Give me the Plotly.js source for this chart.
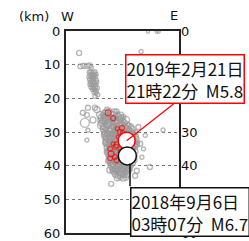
<!DOCTYPE html>
<html><head><meta charset="utf-8">
<script src="https://cdn.plot.ly/plotly-3.0.1.min.js"></script>
<style>html,body{margin:0;padding:0;background:#fff;}#chart{width:249px;height:241px;}</style>
</head><body><div id="chart"></div>
<script>
// depth axis ticks
const depthTicks = [0, 10, 20, 30, 40, 50, 60];
const rightTickVals = [0, 10, 20, 30, 40, 50, 60];

// gray hypocenters (x: W->E distance km, depth km, marker size px)
const grayX = [
 3.9, 4.3, 5.2, 6.2, 7.0, 7.5, 22.3, 24.3, 26.9, 27.5,
 6.9, 7.4, 8.0, 8.6, 7.1, 7.8, 8.4, 8.9, 6.8, 7.5, 8.2, 8.8, 7.0, 7.7, 8.3, 9.0,
 7.2, 7.9, 8.5, 9.1, 7.1, 7.6, 8.3, 8.9, 7.4, 8.0, 8.7, 9.3, 7.8, 8.5, 9.0, 8.3, 8.9, 9.4, 8.6,
 5.0, 6.5, 9.2, 8.0, 5.6, 10.7, 11.6, 6.2, 6.2, 12.2, 8.6, 10.1, 12.2, 6.5,
 11.8, 12.9, 14.2, 15.0,
 10.9, 11.6, 12.4, 13.3, 14.0, 15.3, 16.2,
 10.4, 11.2, 12.0, 12.8, 13.6, 14.5, 15.4, 16.3, 17.0,
 10.2, 11.0, 11.9, 12.7, 13.5, 14.3, 15.2, 16.0, 16.9, 17.8,
 10.6, 11.5, 12.3, 13.1, 13.9, 14.8, 15.6, 16.5, 17.3, 18.2,
 10.9, 11.7, 12.6, 13.4, 14.2, 15.0, 15.9, 16.7, 17.6, 18.5, 19.3,
 11.1, 11.9, 12.8, 13.6, 14.4, 15.3, 16.1, 17.0, 17.8, 18.7, 19.6,
 11.3, 12.2, 13.0, 13.8, 14.7, 15.5, 16.3, 17.2, 18.0, 18.9, 19.8, 20.5,
 11.4, 12.3, 13.1, 13.9, 14.8, 15.6, 16.5, 17.3, 18.2, 19.0, 19.9, 20.7,
 11.7, 12.5, 13.3, 14.1, 15.0, 15.8, 16.6, 17.5, 18.3, 19.2, 20.0, 20.8,
 11.9, 12.7, 13.5, 14.4, 15.2, 16.0, 16.9, 17.7, 18.6, 19.4, 20.3, 21.0,
 12.0, 12.9, 13.7, 14.5, 15.4, 16.2, 17.0, 17.9, 18.7, 19.6, 20.4, 21.1,
 12.2, 13.0, 13.8, 14.7, 15.5, 16.3, 17.2, 18.0, 18.9, 19.7, 20.5,
 12.4, 13.2, 14.0, 14.9, 15.7, 16.5, 17.4, 18.2, 19.1, 19.9, 20.6,
 12.5, 13.3, 14.2, 15.0, 15.8, 16.7, 17.5, 18.4, 19.2, 20.0,
 12.7, 13.5, 14.3, 15.2, 16.0, 16.9, 17.7, 18.6, 19.4, 20.2,
 12.9, 13.7, 14.5, 15.4, 16.2, 17.0, 17.9, 18.7, 19.5, 20.3,
 13.1, 13.9, 14.8, 15.6, 16.4, 17.3, 18.1, 18.9, 19.7,
 13.4, 14.2, 15.0, 15.9, 16.7, 17.5, 18.4, 19.2,
 13.8, 14.6, 15.4, 16.2, 17.1, 17.9, 18.7,
 14.2, 15.0, 15.8, 16.7, 17.5, 18.3,
 14.6, 15.5, 16.3, 17.2, 18.0,
 15.2, 16.1, 17.0, 17.8, 13.4,
 22.0, 24.9, 28.8, 21.5, 23.5, 21.0, 20.5, 22.5, 23.0,
 11.5, 12.4, 13.2, 14.1, 14.9, 15.8, 16.6, 17.4, 18.3, 19.1,
 11.8, 12.6, 13.5, 14.3, 15.1, 16.0, 16.8, 17.7, 18.5, 19.4, 20.2,
 12.1, 12.9, 13.8, 14.6, 15.4, 16.3, 17.1, 17.9, 18.8, 19.6,
 12.5, 13.4, 14.2, 15.1, 15.9, 16.7, 17.6, 18.4, 19.3,
 13.0, 13.8, 14.6, 15.5, 16.3, 17.2, 18.0, 18.8
];
const grayDepth = [
 6.5, 10.5, 10.3, 10.4, 10.2, 10.8, 6.1, 0.2, 0.2, 0.2,
 12.2, 12.0, 12.3, 12.1, 12.9, 13.0, 13.1, 12.8, 13.6, 13.7, 13.8, 13.5, 14.4, 14.5, 14.3, 14.6,
 15.2, 15.1, 15.4, 15.2, 15.9, 16.0, 16.1, 16.0, 16.7, 16.8, 16.6, 16.9, 17.4, 17.5, 17.7, 18.2, 18.4, 18.9, 19.4,
 24.3, 22.8, 23.4, 26.4, 27.3, 27.9, 25.5, 32.4, 24.9, 31.5, 22.8, 24.9, 23.4, 29.5,
 24.1, 23.8, 24.2, 23.9,
 24.9, 24.6, 25.0, 24.7, 25.1, 24.8, 25.0,
 25.7, 25.4, 25.8, 25.5, 25.7, 25.9, 25.5, 25.8, 25.6,
 26.5, 26.7, 26.3, 26.6, 26.4, 26.8, 26.5, 26.3, 26.6, 26.4,
 27.4, 27.2, 27.6, 27.3, 27.5, 27.2, 27.6, 27.4, 27.3, 27.7,
 28.3, 28.5, 28.1, 28.4, 28.2, 28.6, 28.3, 28.1, 28.5, 28.2, 28.4,
 29.2, 29.0, 29.4, 29.1, 29.3, 29.0, 29.4, 29.2, 29.0, 29.3, 29.1,
 30.1, 30.3, 29.9, 30.2, 30.0, 30.3, 30.1, 29.9, 30.2, 30.0, 30.3, 30.1,
 31.0, 30.8, 31.2, 30.9, 31.1, 30.8, 31.2, 31.0, 30.9, 31.1, 30.8, 31.2,
 31.9, 32.1, 31.8, 32.0, 31.7, 32.1, 31.9, 32.2, 31.8, 32.0, 31.9, 32.1,
 32.8, 32.6, 33.0, 32.7, 32.9, 32.6, 33.0, 32.8, 32.7, 32.9, 32.6, 33.0,
 33.7, 33.9, 33.5, 33.8, 33.6, 33.9, 33.7, 33.5, 33.8, 33.6, 33.9, 33.7,
 34.6, 34.4, 34.8, 34.5, 34.7, 34.4, 34.8, 34.6, 34.5, 34.7, 34.4,
 35.5, 35.7, 35.3, 35.6, 35.4, 35.7, 35.5, 35.3, 35.6, 35.4, 35.7,
 36.4, 36.2, 36.6, 36.3, 36.5, 36.2, 36.6, 36.4, 36.3, 36.5,
 37.3, 37.5, 37.1, 37.4, 37.2, 37.5, 37.3, 37.1, 37.4, 37.2,
 38.2, 38.0, 38.4, 38.1, 38.3, 38.0, 38.4, 38.2, 38.1, 38.3,
 39.1, 39.3, 38.9, 39.2, 39.0, 39.3, 39.1, 38.9, 39.2,
 40.0, 39.8, 40.2, 39.9, 40.1, 39.8, 40.2, 40.0,
 40.9, 41.1, 40.7, 41.0, 40.8, 41.1, 40.9,
 41.8, 41.6, 42.0, 41.7, 41.9, 41.6,
 42.7, 42.9, 42.5, 42.8, 42.6,
 43.6, 43.4, 43.7, 43.5, 45.4,
 33.5, 40.4, 29.4, 28.5, 31.0, 41.5, 43.0, 37.5, 35.0,
 30.6, 30.5, 30.8, 30.4, 30.7, 30.5, 30.6, 30.8, 30.4, 30.6,
 33.2, 33.3, 33.1, 33.4, 33.2, 33.0, 33.3, 33.2, 33.4, 33.1, 33.3,
 35.9, 36.0, 35.8, 36.1, 35.9, 36.0, 35.8, 36.1, 35.9, 36.0,
 38.6, 38.7, 38.5, 38.8, 38.6, 38.7, 38.5, 38.8, 38.6,
 41.3, 41.4, 41.2, 41.5, 41.3, 41.2, 41.4, 41.3
];
const graySize = [
 5, 5, 5, 5, 5, 4, 4, 3, 3, 3,
 4, 4, 4, 4, 4, 4, 4, 4, 4, 4, 4, 4, 4, 4, 4, 4,
 4, 4, 4, 4, 4, 4, 4, 4, 4, 4, 4, 4, 4, 4, 4, 4, 4, 4, 4,
 5, 5, 6, 6, 9, 9, 6, 4, 5, 8, 5, 7, 5, 4,
 6, 5, 7, 5,
 5, 7, 5, 6, 8, 5, 6,
 6, 5, 7, 5, 6, 5, 7, 6, 5,
 5, 6, 8, 5, 6, 7, 5, 6, 5, 7,
 6, 5, 7, 6, 5, 6, 8, 5, 6, 5,
 5, 7, 6, 5, 6, 5, 7, 6, 5, 6, 5,
 6, 5, 6, 7, 5, 6, 5, 6, 7, 5, 6,
 5, 6, 7, 5, 6, 8, 5, 6, 5, 7, 6, 5,
 6, 5, 6, 7, 5, 6, 5, 7, 6, 5, 6, 5,
 5, 7, 5, 6, 6, 5, 7, 5, 6, 6, 5, 6,
 6, 5, 6, 5, 7, 6, 5, 6, 5, 7, 5, 5,
 5, 6, 7, 5, 6, 5, 6, 7, 5, 6, 5, 5,
 6, 5, 6, 7, 5, 6, 5, 6, 5, 6, 5,
 5, 6, 5, 6, 7, 5, 6, 5, 6, 5, 5,
 6, 7, 5, 6, 5, 6, 7, 5, 6, 5,
 5, 6, 6, 5, 7, 5, 6, 6, 5, 6,
 6, 5, 7, 6, 5, 6, 5, 7, 6, 5,
 5, 6, 5, 7, 6, 5, 6, 5, 6,
 6, 7, 5, 6, 5, 6, 7, 5,
 5, 6, 7, 5, 6, 5, 6,
 6, 5, 6, 7, 5, 6,
 5, 6, 7, 5, 6,
 6, 5, 6, 5, 5,
 5, 5, 4, 5, 4, 5, 5, 4, 4,
 5, 6, 5, 5, 6, 5, 5, 6, 5, 5,
 6, 5, 5, 6, 5, 5, 6, 5, 5, 6, 5,
 5, 5, 6, 5, 5, 6, 5, 5, 6, 5,
 5, 6, 5, 5, 6, 5, 5, 6, 5,
 6, 5, 5, 6, 5, 5, 6, 5
];

// red hypocenters (after the 2019 event)
const redX = [12.5, 14.0, 16.6, 16.9, 13.1, 14.5, 15.1, 16.0, 14.8, 13.4, 13.1, 15.0, 16.3, 15.5, 14.0, 17.0, 15.2, 16.2];
const redDepth = [24.3, 25.9, 28.8, 30.3, 35.0, 37.4, 33.8, 30.0, 34.4, 36.5, 37.8, 38.4, 33.2, 31.5, 33.5, 38.5, 29.0, 35.8];
const redSize = [6, 5, 5, 5, 5, 5, 6, 5, 5, 6, 5, 5, 5, 4, 4, 5, 4, 5];

// labelled events
const m58 = {x: 18.0, depth: 32.6, label: "2019年2月21日<br>21時22分  M5.8"};
const m67 = {x: 18.2, depth: 37.1, label: "2018年9月6日<br>03時07分  M6.7"};

const gray = '#9a9a9a';
const traces = [
 {type:'scatter', mode:'markers', x:grayX, y:grayDepth, cliponaxis:true,
  marker:{symbol:'circle-open', size:graySize, color:gray, line:{width:1.4, color:gray}}, hoverinfo:'skip'},
 {type:'scatter', mode:'markers', x:redX, y:redDepth,
  marker:{symbol:'circle-open', size:redSize, color:'#ff0000', line:{width:1.2, color:'#ff0000'}}, hoverinfo:'skip'},
 {type:'scatter', mode:'markers', x:[m58.x], y:[m58.depth],
  marker:{symbol:'circle', size:17, color:'#ffffff', line:{width:1.5, color:'#ff0000'}}, hoverinfo:'skip'},
 {type:'scatter', mode:'markers', x:[m67.x], y:[m67.depth],
  marker:{symbol:'circle', size:18, color:'#ffffff', line:{width:1.5, color:'#111111'}}, hoverinfo:'skip'},
 {type:'scatter', mode:'markers', x:[null], y:[null], yaxis:'y2', showlegend:false, hoverinfo:'skip'}
];

const tickFont = {family:'DejaVu Sans, sans-serif', size:13, color:'#111'};
const jp = {family:'Noto Sans CJK JP, sans-serif', size:17, color:'#111'};
const hdr = {family:'DejaVu Sans, sans-serif', size:13, color:'#111'};

const layout = {
 width:249, height:241,
 margin:{l:66, r:70, t:31, b:8, pad:0},
 paper_bgcolor:'#fff', plot_bgcolor:'#fff',
 showlegend:false,
 xaxis:{range:[0, 33.53], showgrid:false, zeroline:false, showticklabels:false, ticks:'',
   showline:true, mirror:true, linecolor:'#222', linewidth:2},
 yaxis:{range:[60, 0], tickvals:depthTicks, ticktext:depthTicks.map(String), tickfont:tickFont,
   showgrid:true, gridcolor:'#777', griddash:'dot', gridwidth:1, zeroline:false, ticks:'', ticklabelstandoff:1,
   showline:true, mirror:true, linecolor:'#222', linewidth:2},
 yaxis2:{range:[60, 0], overlaying:'y', side:'right', tickvals:rightTickVals, ticktext:rightTickVals.map(String),
   tickfont:tickFont, showgrid:false, zeroline:false, ticks:'', showline:false, ticklabelstandoff:1},
 annotations:[
  {xref:'paper', yref:'paper', x:-0.283, y:1.074, xanchor:'center', yanchor:'middle', text:'(km)', showarrow:false, font:hdr},
  {xref:'paper', yref:'paper', x:0.01, y:1.074, xanchor:'center', yanchor:'middle', text:'W', showarrow:false, font:hdr},
  {xref:'paper', yref:'paper', x:0.956, y:1.079, xanchor:'center', yanchor:'middle', text:'E', showarrow:false, font:hdr},
  {x:m58.x, y:m58.depth, xref:'x', yref:'y', text:'', showarrow:true, arrowhead:0, arrowwidth:1.2, arrowcolor:'#ff0000', ax:56, ay:-44, standoff:0},
  {x:m67.x + 0.8, y:m67.depth + 2.3, xref:'x', yref:'y', text:'', showarrow:true, arrowhead:0, arrowwidth:1.5, arrowcolor:'#111', ax:0, ay:24, standoff:0},
  {x:17.5, y:6.8, xref:'x', yref:'y', xanchor:'left', yanchor:'top', text:m58.label, align:'left', showarrow:false,
   font:jp, bgcolor:'#fff', bordercolor:'#ff0000', borderwidth:1.5, borderpad:0},
  {x:19.0, y:46.3, xref:'x', yref:'y', xanchor:'left', yanchor:'top', text:m67.label, align:'left', showarrow:false,
   font:jp, bgcolor:'#fff', bordercolor:'#111', borderwidth:1.5, borderpad:0}
 ]
};
Plotly.newPlot('chart', traces, layout, {staticPlot:true, displayModeBar:false});
</script></body></html>
